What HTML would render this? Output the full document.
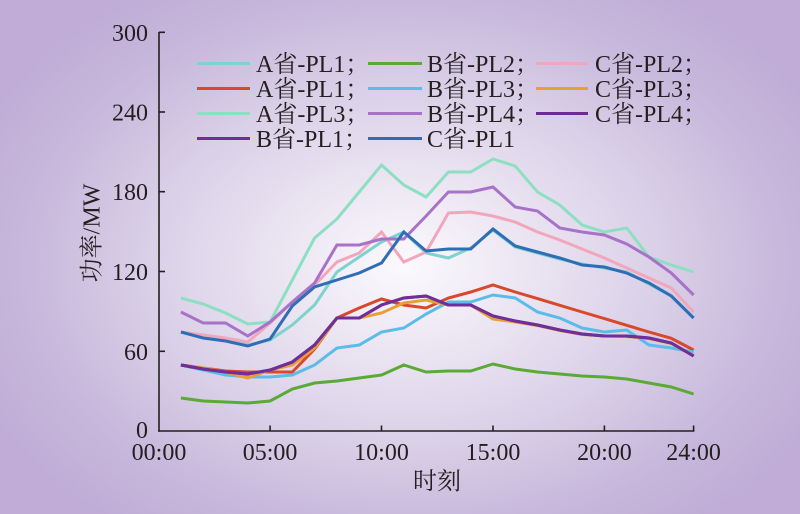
<!DOCTYPE html>
<html><head><meta charset="utf-8"><style>
html,body{margin:0;padding:0;}
body{width:800px;height:514px;overflow:hidden;background:radial-gradient(ellipse 470px 330px at 405px 265px,#fbf9fd 0%,#ece6f3 25%,#d9cfe7 55%,#c8b8dc 80%,#c0acd6 100%);}
svg{display:block;}
text{font-family:"Liberation Serif","Noto Serif CJK SC",serif;fill:#231f20;}
</style></head><body>
<svg width="800" height="514" viewBox="0 0 800 514" xmlns="http://www.w3.org/2000/svg">
<!-- axes -->
<g stroke="#231f20" stroke-width="1.6" fill="none">
<line x1="159" y1="32" x2="159" y2="431.8"/>
<line x1="158.2" y1="431" x2="694.4" y2="431"/>
<line x1="159" y1="32.3" x2="165" y2="32.3"/>
<line x1="159" y1="112" x2="165" y2="112"/>
<line x1="159" y1="191.7" x2="165" y2="191.7"/>
<line x1="159" y1="271.5" x2="165" y2="271.5"/>
<line x1="159" y1="351.3" x2="165" y2="351.3"/>
<line x1="270.1" y1="431" x2="270.1" y2="425.5"/>
<line x1="381.5" y1="431" x2="381.5" y2="425.5"/>
<line x1="493" y1="431" x2="493" y2="425.5"/>
<line x1="604.4" y1="431" x2="604.4" y2="425.5"/>
<line x1="693.6" y1="431" x2="693.6" y2="425.5"/>
</g>
<g font-size="24" text-anchor="end">
<text x="148" y="40.8">300</text>
<text x="148" y="120.5">240</text>
<text x="148" y="200.2">180</text>
<text x="148" y="280">120</text>
<text x="148" y="359.8">60</text>
<text x="148" y="438">0</text>
</g>
<g font-size="24" text-anchor="middle">
<text x="159" y="460">00:00</text>
<text x="270.1" y="460">05:00</text>
<text x="381.5" y="460">10:00</text>
<text x="493" y="460">15:00</text>
<text x="604.4" y="460">20:00</text>
<text x="693.6" y="460">24:00</text>
<text x="437" y="489">时刻</text>
<text x="99.5" y="233" transform="rotate(-90 99.5 233)">功率/MW</text>
</g>
<!-- series -->
<g fill="none" stroke-width="3" stroke-linejoin="miter" stroke-linecap="butt">
<polyline stroke="#7ed3cc" points="180.9,332 203.2,336 225.5,340 247.8,345 270.1,340 292.3,325 314.6,305 336.9,272 359.2,257 381.5,242 403.8,232 426.1,253 448.4,258 470.7,248 493,230 515.2,247 537.5,253 559.8,259 582.1,264 604.4,268 626.7,272 649,284 671.3,296 693.6,318"/>
<polyline stroke="#5aaa35" points="180.9,398 203.2,401 225.5,402 247.8,403 270.1,401 292.3,389 314.6,383 336.9,381 359.2,378 381.5,375 403.8,365 426.1,372 448.4,371 470.7,371 493,364 515.2,369 537.5,372 559.8,374 582.1,376 604.4,377 626.7,379 649,383 671.3,387 693.6,394"/>
<polyline stroke="#f2a6bc" points="180.9,332 203.2,335 225.5,338 247.8,342 270.1,323 292.3,302 314.6,285 336.9,262 359.2,253 381.5,232 403.8,262 426.1,252 448.4,213 470.7,212 493,216 515.2,222 537.5,232 559.8,240 582.1,249 604.4,258 626.7,268 649,278 671.3,288 693.6,312"/>
<polyline stroke="#d8482a" points="180.9,365 203.2,368 225.5,371 247.8,372 270.1,372 292.3,372 314.6,349 336.9,318 359.2,308 381.5,299 403.8,305 426.1,308 448.4,298 470.7,292 493,285 515.2,292 537.5,298.6 559.8,305.3 582.1,312 604.4,318.6 626.7,325.3 649,332 671.3,338.3 693.6,350"/>
<polyline stroke="#5bbce8" points="180.9,365 203.2,370 225.5,375 247.8,377 270.1,377 292.3,375 314.6,365 336.9,348 359.2,345 381.5,332 403.8,328 426.1,314 448.4,302 470.7,302 493,295 515.2,298 537.5,312 559.8,318 582.1,328 604.4,332 626.7,330 649,345 671.3,348 693.6,352"/>
<polyline stroke="#e9a032" points="180.9,365 203.2,368 225.5,372 247.8,378 270.1,370 292.3,365 314.6,348 336.9,318 359.2,318 381.5,313 403.8,303 426.1,300 448.4,305 470.7,305 493,319 515.2,322 537.5,325.5 559.8,330.5 582.1,334.5 604.4,336 626.7,336.5 649,338.5 671.3,343.5 693.6,356"/>
<polyline stroke="#8ddfc2" points="180.9,298 203.2,304 225.5,313 247.8,324 270.1,322 292.3,280 314.6,238 336.9,219 359.2,192 381.5,165 403.8,185 426.1,197 448.4,172 470.7,172 493,159 515.2,166 537.5,192 559.8,205 582.1,225 604.4,232 626.7,228 649,257 671.3,265 693.6,272"/>
<polyline stroke="#a872c8" points="180.9,312 203.2,323 225.5,323 247.8,336 270.1,322 292.3,302 314.6,283 336.9,245 359.2,245 381.5,239 403.8,239 426.1,216 448.4,192 470.7,192 493,187 515.2,207 537.5,211 559.8,228 582.1,232 604.4,235 626.7,244 649,257 671.3,273 693.6,295"/>
<polyline stroke="#6b2c95" points="180.9,365 203.2,369 225.5,372 247.8,374 270.1,370 292.3,362 314.6,345 336.9,318 359.2,318 381.5,305 403.8,298 426.1,296 448.4,305 470.7,305 493,316 515.2,321 537.5,325 559.8,330 582.1,334 604.4,336 626.7,336 649,338 671.3,343 693.6,356"/>
<polyline stroke="#702e98" points="180.9,365 203.2,369 225.5,372 247.8,374 270.1,370 292.3,362 314.6,345 336.9,318 359.2,318 381.5,305 403.8,298 426.1,296 448.4,305 470.7,305 493,316 515.2,321 537.5,325 559.8,330 582.1,334 604.4,336 626.7,336 649,338 671.3,343 693.6,356"/>
<polyline stroke="#2f6db6" points="180.9,332 203.2,338 225.5,341 247.8,346 270.1,339 292.3,306 314.6,287 336.9,280 359.2,273 381.5,263 403.8,232 426.1,251 448.4,249 470.7,249 493,229 515.2,246 537.5,252 559.8,258 582.1,265 604.4,267 626.7,273 649,283 671.3,296 693.6,318"/>
</g>
<!-- legend -->
<g stroke-width="3">
<line x1="197" y1="63.5" x2="250" y2="63.5" stroke="#7ed3cc"/>
<line x1="368" y1="63.5" x2="422" y2="63.5" stroke="#5aaa35"/>
<line x1="536" y1="63.5" x2="588" y2="63.5" stroke="#f2a6bc"/>
<line x1="197" y1="88.5" x2="250" y2="88.5" stroke="#d8482a"/>
<line x1="368" y1="88.5" x2="422" y2="88.5" stroke="#5bbce8"/>
<line x1="536" y1="88.5" x2="588" y2="88.5" stroke="#e9a032"/>
<line x1="197" y1="113.5" x2="250" y2="113.5" stroke="#8ddfc2"/>
<line x1="368" y1="113.5" x2="422" y2="113.5" stroke="#a872c8"/>
<line x1="536" y1="113.5" x2="588" y2="113.5" stroke="#6b2c95"/>
<line x1="197" y1="138.5" x2="250" y2="138.5" stroke="#702e98"/>
<line x1="368" y1="138.5" x2="422" y2="138.5" stroke="#2f6db6"/>
</g>
<g font-size="24">
<text x="256" y="72">A省-PL1；</text>
<text x="427" y="72">B省-PL2；</text>
<text x="595" y="72">C省-PL2；</text>
<text x="256" y="97">A省-PL1；</text>
<text x="427" y="97">B省-PL3；</text>
<text x="595" y="97">C省-PL3；</text>
<text x="256" y="122">A省-PL3；</text>
<text x="427" y="122">B省-PL4；</text>
<text x="595" y="122">C省-PL4；</text>
<text x="256" y="147">B省-PL1；</text>
<text x="427" y="147">C省-PL1</text>
</g>
</svg>
</body></html>
